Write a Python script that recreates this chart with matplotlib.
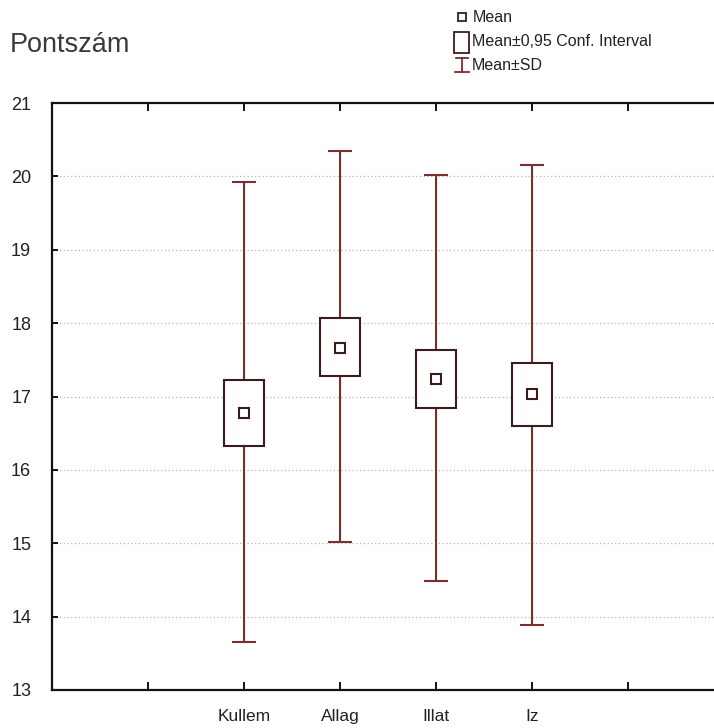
import matplotlib
matplotlib.use("Agg")
import matplotlib.pyplot as plt
from matplotlib.patches import Rectangle
from matplotlib.lines import Line2D

plt.rcParams['font.family'] = ['Liberation Sans', 'DejaVu Sans']

categories = ["Kullem", "Allag", "Illat", "Iz"]
means = [16.78, 17.66, 17.24, 17.03]
ci_low = [16.32, 17.28, 16.84, 16.60]
ci_high = [17.23, 18.07, 17.63, 17.45]
sd_low = [13.66, 15.02, 14.48, 13.88]
sd_high = [19.92, 20.35, 20.02, 20.15]
y_ticks = [13, 14, 15, 16, 17, 18, 19, 20, 21]
x_ticks = [1, 2, 3, 4, 5, 6]

whisker_c = '#7a2e2e'
box_c = '#3a1c1c'

fig = plt.figure(figsize=(7.14, 7.28), dpi=100)
ax = fig.add_axes([52/714, 1-690/728, 672/714, (690-103)/728])

xs = [i + 2 for i in range(len(categories))]
bw = 0.41
cw = 0.24
for x, m, cl, ch, sl, sh in zip(xs, means, ci_low, ci_high, sd_low, sd_high):
    ax.vlines(x, sl, sh, color=whisker_c, lw=1.5, zorder=3)
    ax.hlines([sl, sh], x - cw/2, x + cw/2, color=whisker_c, lw=1.5, zorder=3)
    ax.add_patch(Rectangle((x - bw/2, cl), bw, ch - cl, facecolor='white',
                           edgecolor=box_c, lw=1.5, zorder=4))
    ax.plot([x], [m], marker='s', ms=7, mfc='white', mec=box_c, mew=1.5, zorder=5)

ax.set_xlim(0, 7)
ax.set_ylim(13, 21)
for y in y_ticks[1:-1]:
    ax.axhline(y, color='#b5b5b5', lw=0.9, ls=(0, (1, 2)), zorder=1)

ax.set_yticks(y_ticks)
ax.set_yticklabels([str(v) for v in y_ticks], fontsize=13, color='#222222')
ax.set_xticks(x_ticks)
lab = {x: c for x, c in zip(xs, categories)}
ax.set_xticklabels([lab.get(t, '') for t in x_ticks], fontsize=12.5, color='#222222')
ax.tick_params(axis='x', direction='in', length=6, width=1.3, top=True, pad=14)
ax.tick_params(axis='y', direction='in', length=4, width=1.3, pad=15)
for s in ax.spines.values():
    s.set_linewidth(1.6)
    s.set_color('#111111')

fig.text(10/714, 1-45/728, "Pontszám", fontsize=19.5, color='#3a3a3a', va='center', ha='left')

# legend
fig.patches.append(Rectangle((458/714, 1-21/728), 8/714, 8/728, transform=fig.transFigure,
                             facecolor='white', edgecolor=box_c, lw=1.3))
fig.text(473/714, 1-17/728, "Mean", fontsize=11.5, color='#222222', va='center')
fig.patches.append(Rectangle((454/714, 1-53/728), 15/714, 21/728, transform=fig.transFigure,
                             facecolor='white', edgecolor=box_c, lw=1.3))
fig.text(472/714, 1-42/728, "Mean±0,95 Conf. Interval", fontsize=11.5, color='#222222', va='center')
fig.lines.append(Line2D([462/714, 462/714], [1-58/728, 1-72/728], transform=fig.transFigure,
                        color=whisker_c, lw=1.3))
fig.lines.append(Line2D([456/714, 468/714], [1-58/728, 1-58/728], transform=fig.transFigure,
                        color=whisker_c, lw=1.3))
fig.lines.append(Line2D([455/714, 469/714], [1-72/728, 1-72/728], transform=fig.transFigure,
                        color=whisker_c, lw=1.3))
fig.text(472/714, 1-65/728, "Mean±SD", fontsize=11.5, color='#222222', va='center')

fig.savefig("out.png", dpi=100)
